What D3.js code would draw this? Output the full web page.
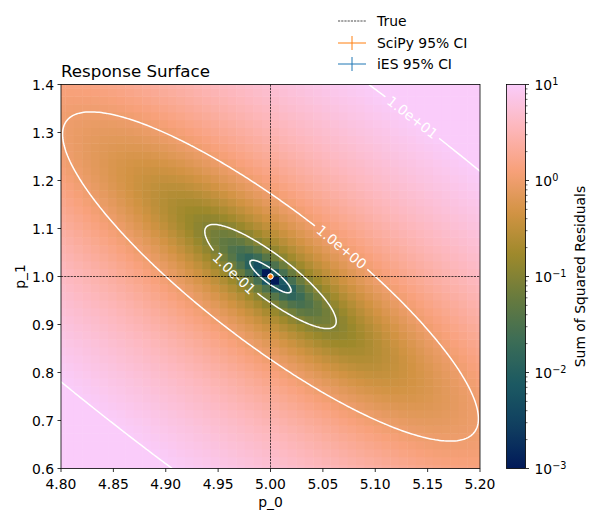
<!DOCTYPE html>
<html>
<head>
<meta charset="utf-8">
<script src="https://cdn.jsdelivr.net/npm/d3@7"></script>
<style>
  body { margin: 0; background: #fff; }
  text { font-family: "DejaVu Sans", sans-serif; }
</style>
</head>
<body>
<div id="chart"></div>
<script>
// parameter grid of the response surface
var p0Range = [4.8, 5.2];
var p1Range = [0.6, 1.4];
var gridSize = 50;
var contourGridSize = 200;

// the fitted experiment: y = p_0 + p_1 * x
var trueParams = [5.0, 1.0];
var scipyFit = [5.0, 1.0];
var iesFit = [5.0, 1.0];
var nObs = 100;
var xObs = d3.range(nObs).map(function(i) { return i / (nObs - 1); });
var yObs = xObs.map(function(x) { return trueParams[0] + trueParams[1] * x; });

var contourLevels = [1e-2, 1e-1, 1e0, 1e1];
var xTicks = [4.80, 4.85, 4.90, 4.95, 5.00, 5.05, 5.10, 5.15, 5.20];
var yTicks = [0.6, 0.7, 0.8, 0.9, 1.0, 1.1, 1.2, 1.3, 1.4];
var cbarTicks = [1e-3, 1e-2, 1e-1, 1e0, 1e1];
var cbarExponents = ["\u22123", "\u22122", "\u22121", "0", "1"];

// batlow
var batlow = ["#011959", "#103f60", "#1c5a62", "#3c6d56", "#687b3e",
              "#9d892b", "#d29343", "#f8a17b", "#fdb7bc", "#faccfa"];

var W = 597, H = 522;
var plot = {left: 61, right: 480, top: 84.5, bottom: 468.5};
var cbar = {left: 506.5, right: 525.5};

var svg = d3.select("#chart").append("svg")
    .attr("width", W).attr("height", H);

var x = d3.scaleLinear().domain(p0Range).range([plot.left, plot.right]);
var y = d3.scaleLinear().domain(p1Range).range([plot.bottom, plot.top]);
var cmap = d3.piecewise(d3.interpolateRgb, batlow);
var norm = d3.scaleLog().domain([1e-3, 1e1]).range([0, 1]).clamp(true);
function color(v) { return cmap(norm(Math.max(v, 1e-12))); }

function ssr(a, b) {
    var s = 0;
    for (var k = 0; k < nObs; k++) {
        var r = yObs[k] - (a + b * xObs[k]);
        s += r * r;
    }
    return s;
}

// grid values (np.linspace style)
function linspace(r, n) {
    return d3.range(n).map(function(i) { return r[0] + i * (r[1] - r[0]) / (n - 1); });
}
var p0Vals = linspace(p0Range, gridSize);
var p1Vals = linspace(p1Range, gridSize);
var hx = p0Vals[1] - p0Vals[0], hy = p1Vals[1] - p1Vals[0];

var defs = svg.append("defs");
defs.append("clipPath").attr("id", "plotclip").append("rect")
    .attr("x", plot.left).attr("y", plot.top)
    .attr("width", plot.right - plot.left).attr("height", plot.bottom - plot.top);

// heatmap
var cells = [];
p1Vals.forEach(function(b, j) {
    p0Vals.forEach(function(a, i) {
        cells.push({a: a, b: b, v: ssr(a, b)});
    });
});
svg.append("g").attr("clip-path", "url(#plotclip)")
    .selectAll("rect").data(cells).enter().append("rect")
    .attr("x", function(d) { return x(d.a - hx / 2); })
    .attr("y", function(d) { return y(d.b + hy / 2); })
    .attr("width", function(d) { return x(d.a + hx / 2) - x(d.a - hx / 2) + 0.5; })
    .attr("height", function(d) { return y(d.b - hy / 2) - y(d.b + hy / 2) + 0.5; })
    .attr("fill", function(d) { return color(d.v); });

// contours on a finer grid, a bit wider than the axes so the edges fall outside the clip
var padX = 0.01, padY = 0.02;
var cp0 = linspace([p0Range[0] - padX, p0Range[1] + padX], contourGridSize);
var cp1 = linspace([p1Range[0] - padY, p1Range[1] + padY], contourGridSize);
var cvalues = [];
cp1.forEach(function(b) { cp0.forEach(function(a) { cvalues.push(ssr(a, b)); }); });
var gx = d3.scaleLinear().domain([0.5, contourGridSize - 0.5]).range([x(cp0[0]), x(cp0[contourGridSize - 1])]);
var gy = d3.scaleLinear().domain([0.5, contourGridSize - 0.5]).range([y(cp1[0]), y(cp1[contourGridSize - 1])]);
var contours = d3.contours().size([contourGridSize, contourGridSize]).thresholds(contourLevels)(cvalues);

function ringsOf(c) {
    var out = [];
    c.coordinates.forEach(function(poly) {
        poly.forEach(function(ring) {
            out.push(ring.map(function(p) { return [gx(p[0]), gy(p[1])]; }));
        });
    });
    return out;
}

// label placement (contour value, approximate spot in data units)
var labelSpots = [
    {level: 1e-1, p0: 4.965, p1: 1.008},
    {level: 1e0, p0: 5.068, p1: 1.061},
    {level: 1e1, p0: 5.136, p1: 1.332}
];

var mask = defs.append("mask").attr("id", "gapmask")
    .attr("maskUnits", "userSpaceOnUse")
    .attr("x", 0).attr("y", 0).attr("width", W).attr("height", H);
mask.append("rect").attr("width", W).attr("height", H).attr("fill", "white");

var labelG = svg.append("g").attr("clip-path", "url(#plotclip)");
var contourG = svg.append("g").attr("clip-path", "url(#plotclip)")
    .append("g").attr("mask", "url(#gapmask)");

contours.forEach(function(c) {
    var rings = ringsOf(c);
    var dstr = rings.map(function(r) { return "M" + r.map(function(p) { return p[0].toFixed(2) + "," + p[1].toFixed(2); }).join("L") + "Z"; }).join("");
    contourG.append("path").attr("d", dstr)
        .attr("fill", "none").attr("stroke", "#fff").attr("stroke-width", 1.5);

    labelSpots.filter(function(s) { return s.level === c.value; }).forEach(function(s) {
        var tx = x(s.p0), ty = y(s.p1);
        var best = null;
        rings.forEach(function(r) {
            r.forEach(function(p, k) {
                var dd = (p[0] - tx) * (p[0] - tx) + (p[1] - ty) * (p[1] - ty);
                if (!best || dd < best.d) best = {d: dd, r: r, k: k};
            });
        });
        var r = best.r, n = r.length, p = r[best.k];
        // walk along the ring ~12px each way to get the direction
        var ka = best.k, kb = best.k, la = 0, lb = 0;
        while (la < 12) { var pk = (ka - 1 + n) % n; la += Math.hypot(r[pk][0] - r[ka][0], r[pk][1] - r[ka][1]); ka = pk; }
        while (lb < 12) { var nk = (kb + 1) % n; lb += Math.hypot(r[nk][0] - r[kb][0], r[nk][1] - r[kb][1]); kb = nk; }
        var a = r[ka], b = r[kb];
        var ang = Math.atan2(b[1] - a[1], b[0] - a[0]) * 180 / Math.PI;
        if (ang > 90) ang -= 180;
        if (ang < -90) ang += 180;
        var t = labelG.append("text")
            .attr("transform", "translate(" + p[0] + "," + p[1] + ") rotate(" + ang + ")")
            .attr("text-anchor", "middle").attr("dy", "0.35em")
            .attr("font-size", 13.9).attr("fill", "#fff")
            .text(d3.format(".1e")(s.level).replace(/e([+-])(\d)$/, "e$10$2"));
        var tw = t.node().getComputedTextLength();
        mask.append("rect")
            .attr("x", -tw / 2 - 4).attr("y", -7).attr("width", tw + 8).attr("height", 14)
            .attr("transform", "translate(" + p[0] + "," + p[1] + ") rotate(" + ang + ")")
            .attr("fill", "black");
    });
});

// true value crosshair
var dash = "2.2,1";
svg.append("line").attr("x1", x(trueParams[0])).attr("x2", x(trueParams[0]))
    .attr("y1", plot.top).attr("y2", plot.bottom)
    .attr("stroke", "#000").attr("stroke-width", 0.7).attr("stroke-dasharray", dash);
svg.append("line").attr("x1", plot.left).attr("x2", plot.right)
    .attr("y1", y(trueParams[1])).attr("y2", y(trueParams[1]))
    .attr("stroke", "#000").attr("stroke-width", 0.7).attr("stroke-dasharray", dash);

// fitted estimates (CIs are tiny at this scale)
[[iesFit, "#1f77b4"], [scipyFit, "#ff7f0e"]].forEach(function(f) {
    svg.append("circle").attr("cx", x(f[0][0])).attr("cy", y(f[0][1]))
        .attr("r", 2.6).attr("fill", f[1]).attr("stroke", "#fff").attr("stroke-width", 1);
});

// axes
svg.append("rect").attr("x", plot.left).attr("y", plot.top)
    .attr("width", plot.right - plot.left).attr("height", plot.bottom - plot.top)
    .attr("fill", "none").attr("stroke", "#000").attr("stroke-width", 0.8);

var xAxis = svg.append("g").attr("transform", "translate(0," + plot.bottom + ")");
xTicks.forEach(function(t) {
    xAxis.append("line").attr("x1", x(t)).attr("x2", x(t)).attr("y1", 0).attr("y2", 3.5)
        .attr("stroke", "#000").attr("stroke-width", 0.8);
    xAxis.append("text").attr("x", x(t)).attr("y", 20).attr("text-anchor", "middle")
        .attr("font-size", 13.9).text(d3.format(".2f")(t));
});
var yAxis = svg.append("g");
yTicks.forEach(function(t) {
    yAxis.append("line").attr("x1", plot.left - 3.5).attr("x2", plot.left).attr("y1", y(t)).attr("y2", y(t))
        .attr("stroke", "#000").attr("stroke-width", 0.8);
    yAxis.append("text").attr("x", plot.left - 7).attr("y", y(t)).attr("dy", "0.36em")
        .attr("text-anchor", "end").attr("font-size", 13.9).text(d3.format(".1f")(t));
});

svg.append("text").attr("x", (plot.left + plot.right) / 2).attr("y", 507)
    .attr("text-anchor", "middle").attr("font-size", 13.9).text("p_0");
svg.append("text").attr("transform", "translate(25," + (plot.top + plot.bottom) / 2 + ") rotate(-90)")
    .attr("text-anchor", "middle").attr("font-size", 13.9).text("p_1");
svg.append("text").attr("x", plot.left).attr("y", 77)
    .attr("font-size", 16.7).text("Response Surface");

// colorbar
var cy = d3.scaleLog().domain([1e-3, 1e1]).range([plot.bottom, plot.top]);
var grad = defs.append("linearGradient").attr("id", "cbgrad")
    .attr("x1", 0).attr("y1", 1).attr("x2", 0).attr("y2", 0);
d3.range(0, 1.0001, 0.02).forEach(function(t) {
    grad.append("stop").attr("offset", t).attr("stop-color", cmap(t));
});
svg.append("rect").attr("x", cbar.left).attr("y", plot.top)
    .attr("width", cbar.right - cbar.left).attr("height", plot.bottom - plot.top)
    .attr("fill", "url(#cbgrad)").attr("stroke", "#000").attr("stroke-width", 0.8);

var cAxis = svg.append("g");
cbarTicks.forEach(function(t, k) {
    cAxis.append("line").attr("x1", cbar.right).attr("x2", cbar.right + 3.5)
        .attr("y1", cy(t)).attr("y2", cy(t)).attr("stroke", "#000").attr("stroke-width", 0.8);
    var lab = cAxis.append("text").attr("x", cbar.right + 9).attr("y", cy(t)).attr("dy", "0.36em")
        .attr("font-size", 13.9);
    lab.append("tspan").text("10");
    lab.append("tspan").attr("dy", "-0.45em").attr("font-size", 9.7).text(cbarExponents[k]);
    if (k < cbarTicks.length - 1) {
        d3.range(2, 10).forEach(function(m) {
            cAxis.append("line").attr("x1", cbar.right).attr("x2", cbar.right + 2)
                .attr("y1", cy(t * m)).attr("y2", cy(t * m)).attr("stroke", "#000").attr("stroke-width", 0.6);
        });
    }
});
svg.append("text").attr("transform", "translate(585," + (plot.top + plot.bottom) / 2 + ") rotate(-90)")
    .attr("text-anchor", "middle").attr("font-size", 13.9).text("Sum of Squared Residuals");

// legend
var legend = svg.append("g");
var legY = [21, 43, 64];
legend.append("line").attr("x1", 338).attr("x2", 366).attr("y1", legY[0]).attr("y2", legY[0])
    .attr("stroke", "#000").attr("stroke-width", 0.7).attr("stroke-dasharray", dash);
[["#ff7f0e", legY[1]], ["#1f77b4", legY[2]]].forEach(function(e) {
    legend.append("line").attr("x1", 338).attr("x2", 366).attr("y1", e[1]).attr("y2", e[1])
        .attr("stroke", e[0]).attr("stroke-width", 1);
    legend.append("line").attr("x1", 352).attr("x2", 352).attr("y1", e[1] - 7).attr("y2", e[1] + 7)
        .attr("stroke", e[0]).attr("stroke-width", 1);
});
["True", "SciPy 95% CI", "iES 95% CI"].forEach(function(s, k) {
    legend.append("text").attr("x", 377).attr("y", legY[k]).attr("dy", "0.36em")
        .attr("font-size", 13.9).text(s);
});
</script>
</body>
</html>
